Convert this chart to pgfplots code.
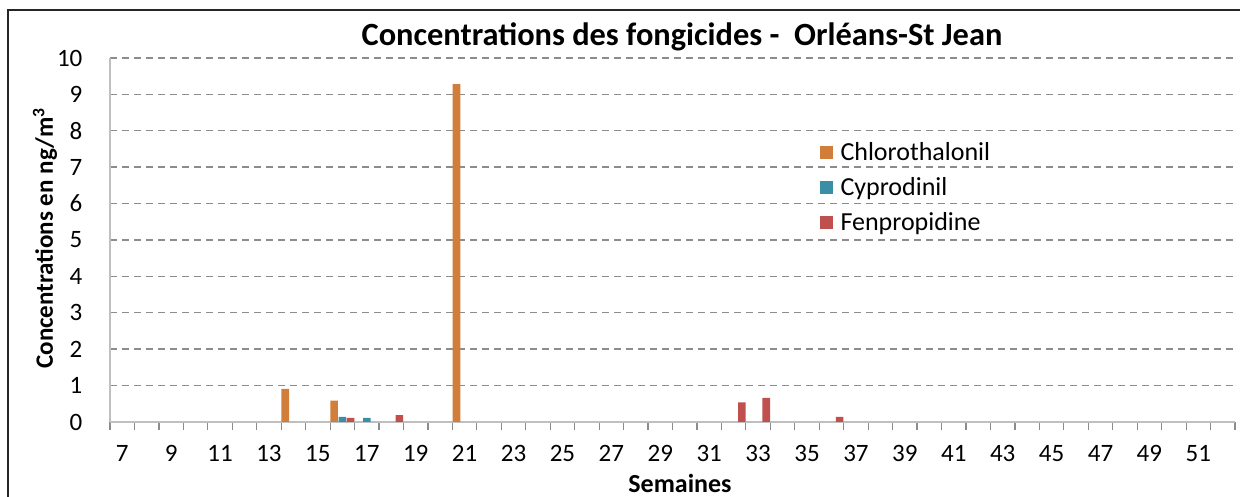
\documentclass[border=0pt]{standalone}
\usepackage{fontspec}
\setmainfont{Carlito}
\usepackage{pgfplots}
\pgfplotsset{compat=1.18}
\definecolor{chloro}{HTML}{D17E3B}
\definecolor{cypro}{HTML}{3A8FA6}
\definecolor{fenpro}{HTML}{C0504D}
\definecolor{gridgray}{HTML}{8C8C8C}
\definecolor{axgray}{HTML}{BFBFBF}
\begin{document}
\begin{tikzpicture}
\useasboundingbox (-55pt,-37.5pt) rectangle (565pt,211pt);
\draw[line width=1pt, black!85] (-51pt,-45pt) -- (-51pt,206pt) -- (575pt,206pt);
\begin{axis}[
  at={(0,0)}, anchor=south west,
  width=562.5pt, height=182pt, scale only axis,
  xmin=6.5, xmax=52.5, ymin=0, ymax=10,
  axis lines=left, axis line style={-, draw=axgray, line width=0.8pt},
  ytick={0,1,...,10},
  xtick={7,9,...,51},
  minor xtick={6.5,7.5,...,52.5},
  major x tick style={draw=none},
  minor x tick style={draw=gridgray, line width=0.6pt},
  tick align=outside, minor tick length=4pt,
  ytick style={draw=none},
  ymajorgrids,
  grid style={draw=gridgray, dash pattern=on 3.5pt off 2.5pt, line width=0.7pt},
  tick label style={font=\fontsize{12.5}{14}\selectfont},
  /pgf/number format/assume math mode=true,
  xticklabel style={yshift=-4pt},
  yticklabel style={xshift=-6pt},
  ybar, bar width=0.31,
  legend style={draw=none, fill=none, at={(0.625,0.79)}, anchor=north west,
    font=\fontsize{13}{15}\selectfont, row sep=3pt},
  legend cell align=left,
]
\addplot[fill=chloro, draw=none, bar shift=-0.3333,
  legend image code/.code={\fill[chloro] (0pt,-3pt) rectangle (6.5pt,3.5pt);}]
  coordinates {(14,0.91) (16,0.59) (21,9.28)};
\addplot[fill=cypro, draw=none, bar shift=0,
  legend image code/.code={\fill[cypro] (0pt,-3pt) rectangle (6.5pt,3.5pt);}]
  coordinates {(16,0.14) (17,0.11)};
\addplot[fill=fenpro, draw=none, bar shift=0.3333,
  legend image code/.code={\fill[fenpro] (0pt,-3pt) rectangle (6.5pt,3.5pt);}]
  coordinates {(16,0.11) (18,0.19) (32,0.54) (33,0.66) (36,0.14)};
\legend{\hspace{2pt}Chlorothalonil, \hspace{2pt}Cyprodinil, \hspace{2pt}Fenpropidine}
\end{axis}
\node[font=\fontsize{16.2}{19}\selectfont\bfseries] at (286pt,192.5pt) {Concentrations des fongicides -\ \ Orléans-St Jean};
\node[font=\fontsize{12.5}{15}\selectfont\bfseries, rotate=90] at (-32.5pt,92pt) {Concentrations en ng/m\textsuperscript{3}};
\node[font=\fontsize{13}{15}\selectfont\bfseries] at (285pt,-30.5pt) {Semaines};
\end{tikzpicture}
\end{document}
